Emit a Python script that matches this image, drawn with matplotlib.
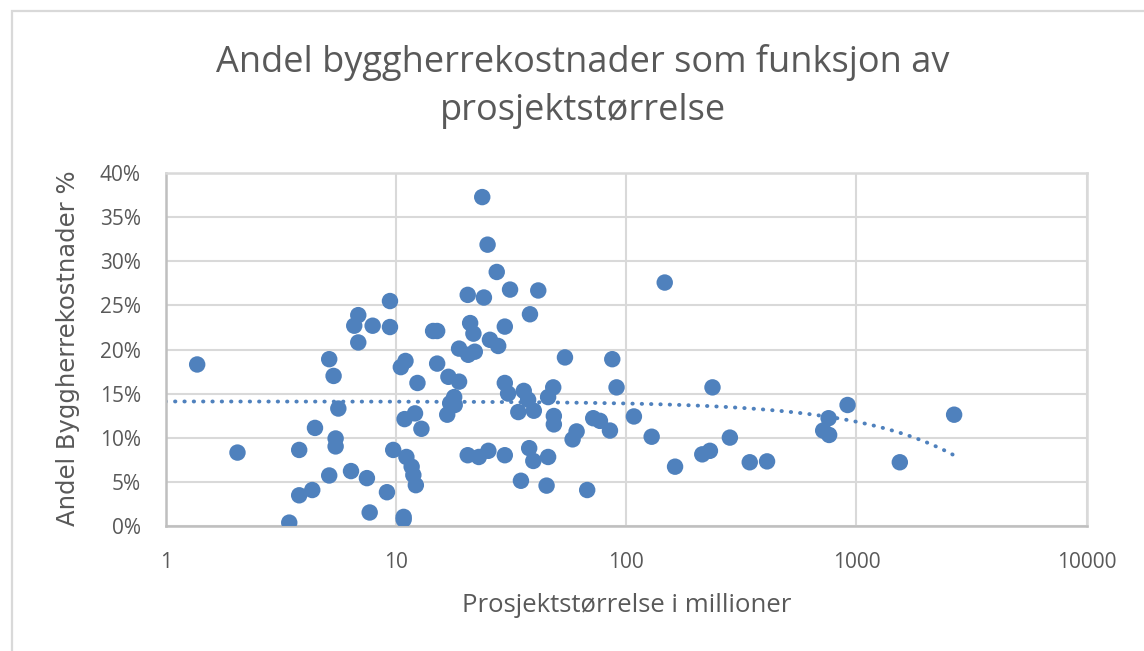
import numpy as np
import matplotlib
matplotlib.use("Agg")
import matplotlib.pyplot as plt
from matplotlib.ticker import FixedLocator, FuncFormatter, NullLocator
from matplotlib.patches import Rectangle

# ---- data ----
project_size_mill = [
    1.37, 2.05, 3.44, 3.80, 3.80, 4.33, 4.45, 5.13, 5.36, 5.62,
    5.47, 5.47, 5.13, 6.38, 7.48, 7.69, 9.14, 9.73, 10.8, 10.8,
    6.86, 6.59, 7.92, 6.86, 9.42, 9.42, 23.7, 25.0, 27.4, 31.3,
    41.5, 20.5, 24.1, 38.2, 21.0, 21.7, 29.7, 14.5, 15.1, 25.6,
    27.8, 18.8, 20.6, 22.0, 54.2, 87.0, 90.8, 10.5, 11.0, 15.1,
    12.4, 16.9, 18.8, 29.7, 30.7, 35.9, 48.2, 45.8, 17.9, 17.2,
    18.0, 16.7, 34.0, 37.5, 39.7, 48.5, 48.5, 60.9, 58.5, 71.9,
    76.9, 85.0, 108, 10.9, 12.1, 12.9, 11.1, 11.7, 11.9, 12.2,
    20.5, 22.9, 25.2, 29.7, 37.9, 39.5, 45.8, 34.9, 45.1, 67.7,
    147, 129, 163, 237, 214, 231, 282, 344, 409, 757,
    717, 761, 915, 1543, 2656,
]
owner_cost_pct = [
    18.3, 8.3, 0.35, 8.6, 3.45, 4.05, 11.1, 18.9, 17.0, 13.3,
    9.9, 9.0, 5.7, 6.2, 5.4, 1.5, 3.8, 8.6, 1.0, 0.7,
    23.9, 22.7, 22.7, 20.8, 25.5, 22.55, 37.3, 31.9, 28.8, 26.8,
    26.7, 26.2, 25.9, 24.0, 23.0, 21.8, 22.6, 22.1, 22.1, 21.1,
    20.4, 20.1, 19.4, 19.75, 19.1, 18.9, 15.7, 18.0, 18.7, 18.4,
    16.2, 16.9, 16.35, 16.2, 15.0, 15.3, 15.7, 14.6, 14.6, 13.9,
    13.7, 12.6, 12.9, 14.3, 13.05, 12.45, 11.5, 10.7, 9.8, 12.2,
    11.9, 10.8, 12.4, 12.1, 12.75, 11.0, 7.8, 6.7, 5.75, 4.6,
    8.0, 7.8, 8.5, 8.0, 8.8, 7.35, 7.8, 5.1, 4.55, 4.05,
    27.6, 10.1, 6.7, 15.7, 8.1, 8.5, 10.0, 7.2, 7.3, 12.2,
    10.8, 10.3, 13.7, 7.2, 12.6,
]
x_ticks = [1, 10, 100, 1000, 10000]
x_tick_labels = ["1", "10", "100", "1000", "10000"]
y_ticks = [0, 5, 10, 15, 20, 25, 30, 35, 40]

title = "Andel byggherrekostnader som funksjon av\nprosjektstørrelse"
x_label = "Prosjektstørrelse i millioner"
y_label = "Andel Byggherrekostnader %"

# ---- style ----
W, H = 1144, 651
DPI = 100
blue = "#4F81BD"
grid_c = "#D9D9D9"
text_c = "#595959"

plt.rcParams["font.family"] = ["Open Sans", "DejaVu Sans"]

fig = plt.figure(figsize=(W / DPI, H / DPI), dpi=DPI)
fig.patch.set_facecolor("white")

# chart-area border
fig.patches.append(Rectangle((12 / W, -0.05), 1.2, 1 - 11 / H + 0.05,
                             transform=fig.transFigure, fill=False,
                             edgecolor=grid_c, lw=1.6, zorder=0))

left, right = 165.7 / W, 1086.7 / W
bottom, top = 1 - 525.7 / H, 1 - 173.3 / H
ax = fig.add_axes([left, bottom, right - left, top - bottom])

x = np.array(project_size_mill, dtype=float)
y = np.array(owner_cost_pct, dtype=float)

ax.scatter(x, y, s=140, color=blue, edgecolors="none", zorder=3)

# linear trend line (Excel style: linear fit on raw x, shown on log axis)
b, a = np.polyfit(x, y, 1)
xt = np.logspace(np.log10(x_ticks[0]), np.log10(x.max()), 400)
ax.plot(xt, a + b * xt, color=blue, lw=2.8, linestyle=(0, (0.1, 2.3)),
        dash_capstyle="round", zorder=2)

ax.set_xscale("log")
ax.set_xlim(x_ticks[0], x_ticks[-1])
ax.set_ylim(y_ticks[0], y_ticks[-1])
ax.xaxis.set_major_locator(FixedLocator(x_ticks))
ax.xaxis.set_minor_locator(NullLocator())
ax.set_xticklabels(x_tick_labels)
ax.yaxis.set_major_locator(FixedLocator(y_ticks))
ax.yaxis.set_major_formatter(FuncFormatter(lambda v, p: f"{v:.0f}%"))

ax.grid(True, color=grid_c, lw=1.5, zorder=0)
ax.set_axisbelow(True)
for s in ax.spines.values():
    s.set_color(grid_c)
    s.set_linewidth(1.8)
ax.spines["left"].set_color("#BFBFBF")
ax.spines["bottom"].set_color("#BFBFBF")

ax.tick_params(axis="both", length=0, labelsize=15, labelcolor=text_c)
ax.tick_params(axis="y", pad=18)
ax.tick_params(axis="x", pad=19)

fig.text(583 / W, 1 - 86.5 / H, title, ha="center", va="center",
         fontsize=26, color=text_c, linespacing=1.45)
fig.text(627 / W, 1 - 605 / H, x_label, ha="center", va="center",
         fontsize=18.5, color=text_c)
fig.text(68 / W, 1 - 348 / H, y_label, ha="center", va="center",
         rotation=90, fontsize=17.5, color=text_c, family=["DejaVu Sans"])

fig.savefig("out.png", dpi=DPI, facecolor="white")
